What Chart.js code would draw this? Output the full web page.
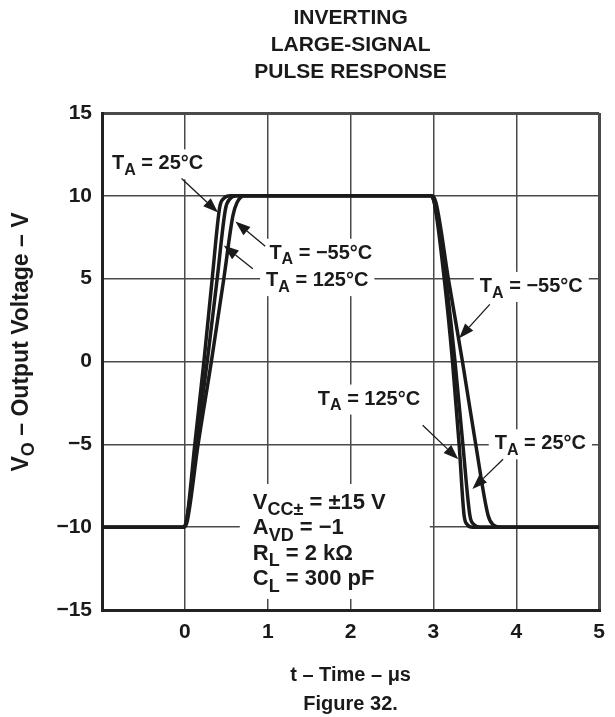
<!DOCTYPE html>
<html>
<head>
<meta charset="utf-8">
<script src="https://cdn.jsdelivr.net/npm/chart.js@4.4.1/dist/chart.umd.min.js"></script>
<style>
  html, body { margin: 0; padding: 0; background: #fff; }
</style>
</head>
<body>
<canvas id="pulse-chart" width="615" height="717"></canvas>
<script>
// axis ticks
const timeTicks = [-1, 0, 1, 2, 3, 4, 5];
const voltTicks = [-15, -10, -5, 0, 5, 10, 15];

// T_A = 25°C
const time25 = [-1, -0.02, 0.02, 0.12, 0.23, 0.33, 0.42, 0.47, 0.55, 2.97, 3.01, 3.15, 3.26, 3.355, 3.44, 3.49, 3.57, 5];
const volt25 = [-10, -10, -9.6, -5, 0, 5, 9.3, 9.85, 10, 10, 9.6, 5, 0, -5, -9.3, -9.85, -10, -10];

// T_A = 125°C
const time125 = [-1, -0.02, 0.02, 0.14, 0.27, 0.39, 0.49, 0.54, 0.62, 2.97, 3.01, 3.13, 3.23, 3.31, 3.37, 3.41, 3.47, 5];
const volt125 = [-10, -10, -9.6, -5, 0, 5, 9.2, 9.8, 10, 10, 9.6, 5, 0, -5, -9.3, -9.85, -10, -10];

// T_A = -55°C
const timeM55 = [-1, -0.01, 0.03, 0.16, 0.32, 0.47, 0.58, 0.63, 0.72, 2.98, 3.03, 3.18, 3.35, 3.51, 3.66, 3.72, 3.82, 5];
const voltM55 = [-10, -10, -9.6, -5, 0, 5, 8.8, 9.6, 10, 10, 9.6, 5, 0, -5, -9.3, -9.85, -10, -10];

const FONT = '"Liberation Sans", Arial, Helvetica, sans-serif';
const INK = '#1a1a1a';

// annotations, placed in data units (t, V)
const notes = [
    {parts: [['T'], ['A', 1], [' = 25°C']], at: [-0.88, 11.6], from: [-0.04, 11.05], to: [0.40, 9.0]},
    {parts: [['T'], ['A', 1], [' = \u221255°C']], at: [1.02, 6.2], from: [0.97, 6.95], to: [0.61, 8.45]},
    {parts: [['T'], ['A', 1], [' = 125°C']], at: [0.98, 4.55], from: [0.82, 5.6], to: [0.47, 7.0]},
    {parts: [['T'], ['A', 1], [' = \u221255°C']], at: [3.56, 4.2], from: [3.68, 3.45], to: [3.31, 1.4]},
    {parts: [['T'], ['A', 1], [' = 125°C']], at: [2.84, -2.6], align: 'right', from: [2.87, -3.85], to: [3.30, -5.9]},
    {parts: [['T'], ['A', 1], [' = 25°C']], at: [3.74, -5.3], from: [3.84, -5.9], to: [3.47, -7.7]},
];
const conditions = [
    [['V'], ['CC\u00b1', 1], [' = \u00b115 V']],
    [['A'], ['VD', 1], [' = \u22121']],
    [['R'], ['L', 1], [' = 2 k\u03a9']],
    [['C'], ['L', 1], [' = 300 pF']],
];
const conditionsAt = [0.82, -8.9];

function pts(t, v) {
    return t.map((x, i) => ({x: x, y: v[i]}));
}

function richWidth(ctx, parts, size) {
    let w = 0;
    parts.forEach(p => {
        ctx.font = 'bold ' + (p[1] ? Math.round(size * 0.8) : size) + 'px ' + FONT;
        w += ctx.measureText(p[0]).width;
    });
    return w;
}

function richText(ctx, parts, x, y, size) {
    let cx = x;
    ctx.textAlign = 'left';
    ctx.textBaseline = 'alphabetic';
    parts.forEach(p => {
        ctx.font = 'bold ' + (p[1] ? Math.round(size * 0.8) : size) + 'px ' + FONT;
        ctx.fillText(p[0], cx, y + (p[1] ? size * 0.28 : 0));
        cx += ctx.measureText(p[0]).width;
    });
}

function arrow(ctx, x1, y1, x2, y2) {
    const a = Math.atan2(y2 - y1, x2 - x1);
    const len = 15, half = 5.5;
    ctx.beginPath();
    ctx.moveTo(x1, y1);
    ctx.lineTo(x2 - len * Math.cos(a), y2 - len * Math.sin(a));
    ctx.lineWidth = 1.3;
    ctx.strokeStyle = INK;
    ctx.stroke();
    ctx.beginPath();
    ctx.moveTo(x2, y2);
    ctx.lineTo(x2 - len * Math.cos(a) + half * Math.sin(a), y2 - len * Math.sin(a) - half * Math.cos(a));
    ctx.lineTo(x2 - len * Math.cos(a) - half * Math.sin(a), y2 - len * Math.sin(a) + half * Math.cos(a));
    ctx.closePath();
    ctx.fillStyle = INK;
    ctx.fill();
}

const labelPlugin = {
    id: 'labels',
    beforeDatasetsDraw(chart) {
        // white boxes break the grid behind the labels
        const ctx = chart.ctx, sx = chart.scales.x, sy = chart.scales.y;
        ctx.save();
        ctx.fillStyle = '#fff';
        notes.forEach(n => {
            const w = richWidth(ctx, n.parts, 20);
            let x = sx.getPixelForValue(n.at[0]);
            const y = sy.getPixelForValue(n.at[1]);
            if (n.align === 'right') x -= w;
            ctx.fillRect(x - 6, y - 20, w + 12, 30);
        });
        const cx = sx.getPixelForValue(conditionsAt[0]);
        const cy = sy.getPixelForValue(conditionsAt[1]);
        ctx.fillRect(cx - 13, cy - 25, 190, 115);
        ctx.restore();
    },
    afterDatasetsDraw(chart) {
        const ctx = chart.ctx, sx = chart.scales.x, sy = chart.scales.y;
        ctx.save();
        ctx.fillStyle = INK;
        notes.forEach(n => {
            const w = richWidth(ctx, n.parts, 20);
            let x = sx.getPixelForValue(n.at[0]);
            if (n.align === 'right') x -= w;
            ctx.fillStyle = INK;
            richText(ctx, n.parts, x, sy.getPixelForValue(n.at[1]), 20);
            arrow(ctx, sx.getPixelForValue(n.from[0]), sy.getPixelForValue(n.from[1]),
                  sx.getPixelForValue(n.to[0]), sy.getPixelForValue(n.to[1]));
        });
        const cx = sx.getPixelForValue(conditionsAt[0]);
        const cy = sy.getPixelForValue(conditionsAt[1]);
        ctx.fillStyle = INK;
        conditions.forEach((c, i) => richText(ctx, c, cx, cy + i * 25.5, 22));

        // titles
        const mid = (chart.chartArea.left + chart.chartArea.right) / 2;
        ctx.textAlign = 'center';
        ctx.textBaseline = 'middle';
        ctx.font = 'bold 21px ' + FONT;
        ctx.fillText('INVERTING', mid, 18);
        ctx.fillText('LARGE-SIGNAL', mid, 45);
        ctx.fillText('PULSE RESPONSE', mid, 72);
        ctx.font = 'bold 20px ' + FONT;
        ctx.fillText('t \u2013 Time \u2013 \u03bcs', mid, 675);
        ctx.fillText('Figure 32.', mid, 704);

        // y axis title
        const yt = [['V'], ['O', 1], [' \u2013 Output Voltage \u2013 V']];
        const w = richWidth(ctx, yt, 23);
        ctx.translate(28, 342);
        ctx.rotate(-Math.PI / 2);
        richText(ctx, yt, -w / 2, 0, 23);
        ctx.restore();
    }
};

const lineStyle = {
    borderColor: INK,
    borderWidth: 3.5,
    pointRadius: 0,
    fill: false,
    cubicInterpolationMode: 'monotone',
};

const ctx = document.querySelector('#pulse-chart').getContext('2d');
new Chart(ctx, {
    type: 'line',
    data: {
        datasets: [
            Object.assign({label: '25', data: pts(time25, volt25)}, lineStyle),
            Object.assign({label: '125', data: pts(time125, volt125)}, lineStyle),
            Object.assign({label: '-55', data: pts(timeM55, voltM55)}, lineStyle),
        ],
    },
    options: {
        responsive: false,
        animation: false,
        devicePixelRatio: 1,
        layout: {padding: {top: 113, right: 9, left: 0, bottom: 0}},
        scales: {
            x: {
                type: 'linear',
                min: -1,
                max: 5,
                afterBuildTicks: s => { s.ticks = timeTicks.map(v => ({value: v})); },
                afterFit: s => { s.height = 107; },
                ticks: {
                    callback: v => (v < 0 ? '' : String(v)),
                    font: {family: FONT, size: 21, weight: 'bold'},
                    color: INK,
                    padding: 10,
                    maxRotation: 0,
                },
                grid: {
                    color: '#4a4a4a',
                    lineWidth: c => (c.tick && (c.tick.value === -1 || c.tick.value === 5) ? 3 : 1.5),
                    drawTicks: false,
                },
                border: {color: '#222', width: 3},
            },
            y: {
                min: -15,
                max: 15,
                afterBuildTicks: s => { s.ticks = voltTicks.map(v => ({value: v})); },
                afterFit: s => { s.width = 102; },
                ticks: {
                    callback: v => String(v).replace('-', '\u2212'),
                    font: {family: FONT, size: 21, weight: 'bold'},
                    color: INK,
                    padding: 10,
                },
                grid: {
                    color: '#4a4a4a',
                    lineWidth: c => (c.tick && (c.tick.value === 15 || c.tick.value === -15) ? 3 : 1.5),
                    drawTicks: false,
                },
                border: {color: '#222', width: 3},
            },
        },
        plugins: {
            legend: {display: false},
            tooltip: {enabled: false},
        },
    },
    plugins: [labelPlugin],
});
</script>
</body>
</html>
